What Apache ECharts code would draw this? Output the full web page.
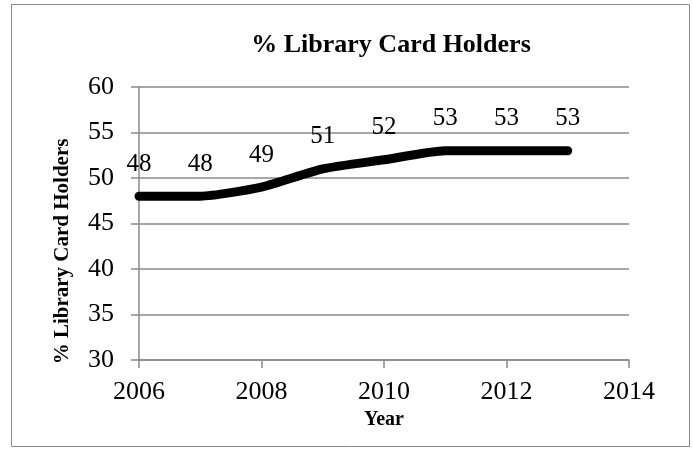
<!DOCTYPE html>
<html>
<head>
<meta charset="utf-8">
<style>
  html, body { margin: 0; padding: 0; background: #fff; }
  #chart { width: 693px; height: 449px; }
</style>
<script src="https://cdn.jsdelivr.net/npm/echarts@6/dist/echarts.min.js"></script>
</head>
<body>
<div id="chart"></div>
<script>
  // values
  var years = [2006, 2007, 2008, 2009, 2010, 2011, 2012, 2013];
  var holders = [48, 48, 49, 51, 52, 53, 53, 53];
  var xTicks = [2006, 2008, 2010, 2012, 2014];
  var yTicks = [30, 35, 40, 45, 50, 55, 60];

  var serif = '"Liberation Serif", "DejaVu Serif", serif';
  var gray = '#8a8a8a';

  var points = years.map(function (y, i) { return [y, holders[i]]; });

  var myChart = echarts.init(document.getElementById('chart'));
  myChart.setOption({
    animation: false,
    title: {
      text: '% Library Card Holders',
      left: 386,
      textAlign: 'center',
      top: 27,
      textStyle: { fontFamily: serif, fontWeight: 'bold', fontSize: 26, color: '#000' }
    },
    graphic: [{
      type: 'rect',
      shape: { x: 11.5, y: 4.5, width: 678, height: 442 },
      style: { fill: 'none', stroke: gray, lineWidth: 1 },
      silent: true
    }],
    grid: { left: 139, right: 64, top: 87, bottom: 89 },
    xAxis: {
      type: 'value',
      min: xTicks[0],
      max: xTicks[xTicks.length - 1],
      interval: 2,
      name: 'Year',
      nameLocation: 'middle',
      nameGap: 48,
      nameTextStyle: { fontFamily: serif, fontWeight: 'bold', fontSize: 20, color: '#000' },
      axisLine: { show: true, lineStyle: { color: gray, width: 1.5 } },
      axisTick: { show: true, length: 8, lineStyle: { color: gray, width: 1.5 } },
      splitLine: { show: false },
      axisLabel: {
        margin: 19, fontFamily: serif, fontSize: 26, color: '#000',
        formatter: function (v) { return String(v); }
      }
    },
    yAxis: {
      type: 'value',
      min: yTicks[0],
      max: yTicks[yTicks.length - 1],
      interval: 5,
      name: '% Library Card Holders',
      nameLocation: 'middle',
      nameGap: 66,
      // Excel sits this title a bit below the plot's middle
      nameTextStyle: {
        fontFamily: serif, fontWeight: 'bold', fontSize: 21, color: '#000',
        padding: [0, 56, 0, 0]
      },
      axisLine: { show: true, lineStyle: { color: gray, width: 1.5 } },
      axisTick: { show: true, length: 8, lineStyle: { color: gray, width: 1.5 } },
      splitLine: { show: true, lineStyle: { color: gray, width: 1.5 } },
      axisLabel: { margin: 25, fontFamily: serif, fontSize: 26, color: '#000' }
    },
    series: [{
      type: 'line',
      data: points,
      smooth: 0.2,
      symbol: 'circle',
      symbolSize: 1,
      showSymbol: true,
      itemStyle: { color: '#000' },
      lineStyle: { color: '#000', width: 9, cap: 'round', join: 'round' },
      label: {
        show: true,
        position: 'top',
        distance: 19,
        fontFamily: serif,
        fontSize: 25,
        color: '#000',
        formatter: function (p) { return p.value[1]; }
      },
      emphasis: { disabled: true }
    }]
  });
</script>
</body>
</html>
